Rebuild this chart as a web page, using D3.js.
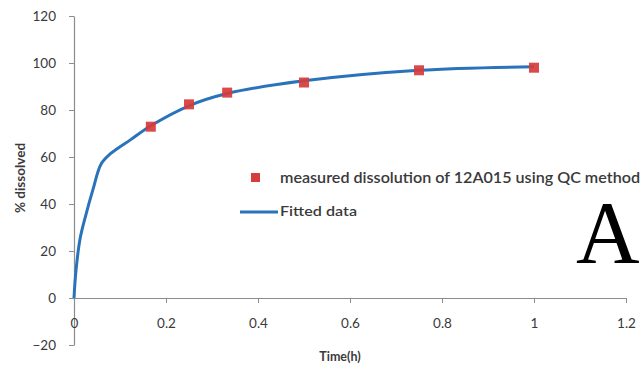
<!DOCTYPE html>
<html><head><meta charset="utf-8">
<script src="https://cdn.jsdelivr.net/npm/d3@7"></script>
<style>html,body{margin:0;padding:0;background:#fff;}svg{display:block;}</style>
</head><body>
<svg id="chart" width="640" height="370"></svg>
<script>
// Measured dissolution (squares)
const measuredTime = [0.167, 0.25, 0.333, 0.5, 0.75, 1.0];
const measuredPct  = [72.9, 82.4, 87.4, 91.7, 96.9, 98.0];
// Fitted curve (line)
const fittedTime = [0, 0.004, 0.013, 0.026, 0.041, 0.059, 0.08, 0.124, 0.167, 0.25, 0.333, 0.5, 0.75, 1.0];
const fittedPct  = [0, 11, 25, 35.5, 46, 57, 61.5, 67.5, 73.3, 81.8, 87.0, 92.4, 96.9, 98.4];
const xTicks = [0, 0.2, 0.4, 0.6, 0.8, 1, 1.2];
const yTicks = [-20, 0, 20, 40, 60, 80, 100, 120];
const legendLabels = ["measured dissolution of 12A015 using QC method", "Fitted data"];

const svg = d3.select("#chart");
const x = d3.scaleLinear().domain([0, 1.2]).range([74, 626]);
const y = d3.scaleLinear().domain([-20, 120]).range([345, 16]);
const axisColor = "#8c8c8c", textColor = "#3a3a3a";
const font = "Lato, 'Liberation Sans', sans-serif";

// y axis
const yAxis = svg.append("g").attr("transform", `translate(${x(0)},0)`)
  .call(d3.axisLeft(y).tickValues(yTicks).tickSize(5).tickSizeOuter(0).tickPadding(13).tickFormat(d3.format("d")));
// x axis at y=0
const xAxis = svg.append("g").attr("transform", `translate(0,${y(0)})`)
  .call(d3.axisBottom(x).tickValues(xTicks).tickSize(5).tickSizeOuter(0).tickPadding(15).tickFormat(d => d === 0 ? "0" : d3.format("~g")(d)));
[yAxis, xAxis].forEach(g => {
  g.select(".domain").attr("stroke", axisColor).attr("stroke-width", 1.2);
  g.selectAll(".tick line").attr("stroke", axisColor);
  g.selectAll(".tick text").attr("fill", textColor).style("font-family", font).style("font-size", "13.5px");
});

// fitted line
const fitted = fittedTime.map((t, i) => [t, fittedPct[i]]);
svg.append("path").datum(fitted)
  .attr("fill", "none").attr("stroke", "#2a72ba").attr("stroke-width", 3)
  .attr("stroke-linejoin", "round")
  .attr("d", d3.line().x(d => x(d[0])).y(d => y(d[1])).curve(d3.curveCatmullRom.alpha(0.5)));

// measured squares
const sq = 10;
svg.selectAll("rect.m").data(measuredTime.map((t, i) => [t, measuredPct[i]])).join("rect")
  .attr("class", "m")
  .attr("x", d => x(d[0]) - sq / 2).attr("y", d => y(d[1]) - sq / 2)
  .attr("width", sq).attr("height", sq).attr("fill", "#d63c3c").attr("opacity", 0.92);

// legend
svg.append("rect").attr("x", 251).attr("y", 173).attr("width", 9).attr("height", 9).attr("fill", "#d63c3c");
svg.append("text").attr("x", 280).attr("y", 183).text(legendLabels[0])
  .attr("textLength", 360).attr("lengthAdjust", "spacingAndGlyphs")
  .attr("fill", textColor).style("font-family", font).style("font-size", "15px").style("font-weight", "600");
svg.append("line").attr("x1", 240).attr("x2", 278).attr("y1", 212).attr("y2", 212)
  .attr("stroke", "#2a72ba").attr("stroke-width", 3);
svg.append("text").attr("x", 280).attr("y", 216).text(legendLabels[1])
  .attr("textLength", 77).attr("lengthAdjust", "spacingAndGlyphs")
  .attr("fill", textColor).style("font-family", font).style("font-size", "13px").style("font-weight", "600");

// axis titles
svg.append("text").attr("transform", "translate(25,178) rotate(-90)").attr("text-anchor", "middle")
  .text("% dissolved").attr("fill", textColor).style("font-family", font).style("font-size", "13.5px").style("font-weight", "bold");
svg.append("text").attr("x", 340).attr("y", 361).attr("text-anchor", "middle")
  .text("Time(h)").attr("fill", textColor).style("font-family", font).style("font-size", "12.5px").style("font-weight", "bold");

// panel letter
svg.append("text").attr("x", 576).attr("y", 262).text("A")
  .attr("fill", "#000").style("font-family", "'Liberation Serif', 'DejaVu Serif', serif").style("font-size", "88px");
</script>
</body></html>
